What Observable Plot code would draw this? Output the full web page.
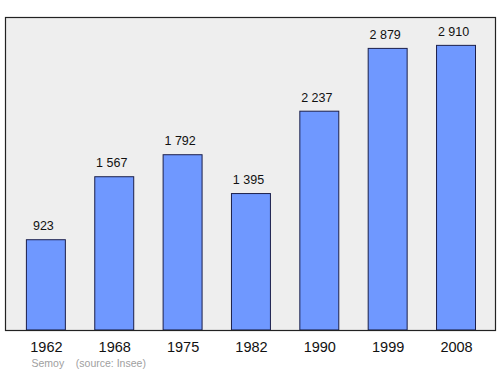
<!DOCTYPE html>
<html>
<head>
<meta charset="utf-8">
<script src="https://cdn.jsdelivr.net/npm/d3@7"></script>
<script src="https://cdn.jsdelivr.net/npm/@observablehq/plot@0.6"></script>
<style>
  body { margin: 0; background: #fff; }
  #chart svg { display: block; }
</style>
</head>
<body>
<div id="chart"></div>
<script>
const years = ["1962", "1968", "1975", "1982", "1990", "1999", "2008"];
const population = [923, 1567, 1792, 1395, 2237, 2879, 2910];
const valueLabels = ["923", "1 567", "1 792", "1 395", "2 237", "2 879", "2 910"];
const captionText = "Semoy    (source: Insee)";

const data = years.map((y, i) => ({year: y, pop: population[i], label: valueLabels[i]}));

const chart = Plot.plot({
  width: 500,
  height: 374,
  marginTop: 17,
  marginBottom: 44,
  marginLeft: 5,
  marginRight: 5,
  style: {fontFamily: "'Liberation Sans', Arial, sans-serif", background: "#fff"},
  x: {domain: years, paddingInner: 0.43, paddingOuter: 0.215, insetLeft: 6.7, insetRight: 4.8, round: false, label: null},
  y: {domain: [0, 3200], axis: null},
  marks: [
    Plot.frame({fill: "#eeeeee", stroke: "none"}),
    Plot.barY(data, {x: "year", y: "pop", fill: "#6f98ff", stroke: "#1b1f4a", strokeWidth: 1}),
    Plot.text(data, {x: "year", y: "pop", text: "label", lineAnchor: "bottom", dy: -10, dx: -3, fontSize: 12.5, fill: "#111"}),
    Plot.frame({stroke: "#222", strokeWidth: 1.2}),
    Plot.axisX({tickSize: 0, tickPadding: 11, fontSize: 14.5, fill: "#111", label: null}),
    Plot.text([captionText], {frameAnchor: "bottom-left", dx: 26, dy: 36, fontSize: 10.5, fill: "#a0a0a0", textAnchor: "start", text: d => d})
  ]
});
document.getElementById("chart").append(chart);
</script>
</body>
</html>
